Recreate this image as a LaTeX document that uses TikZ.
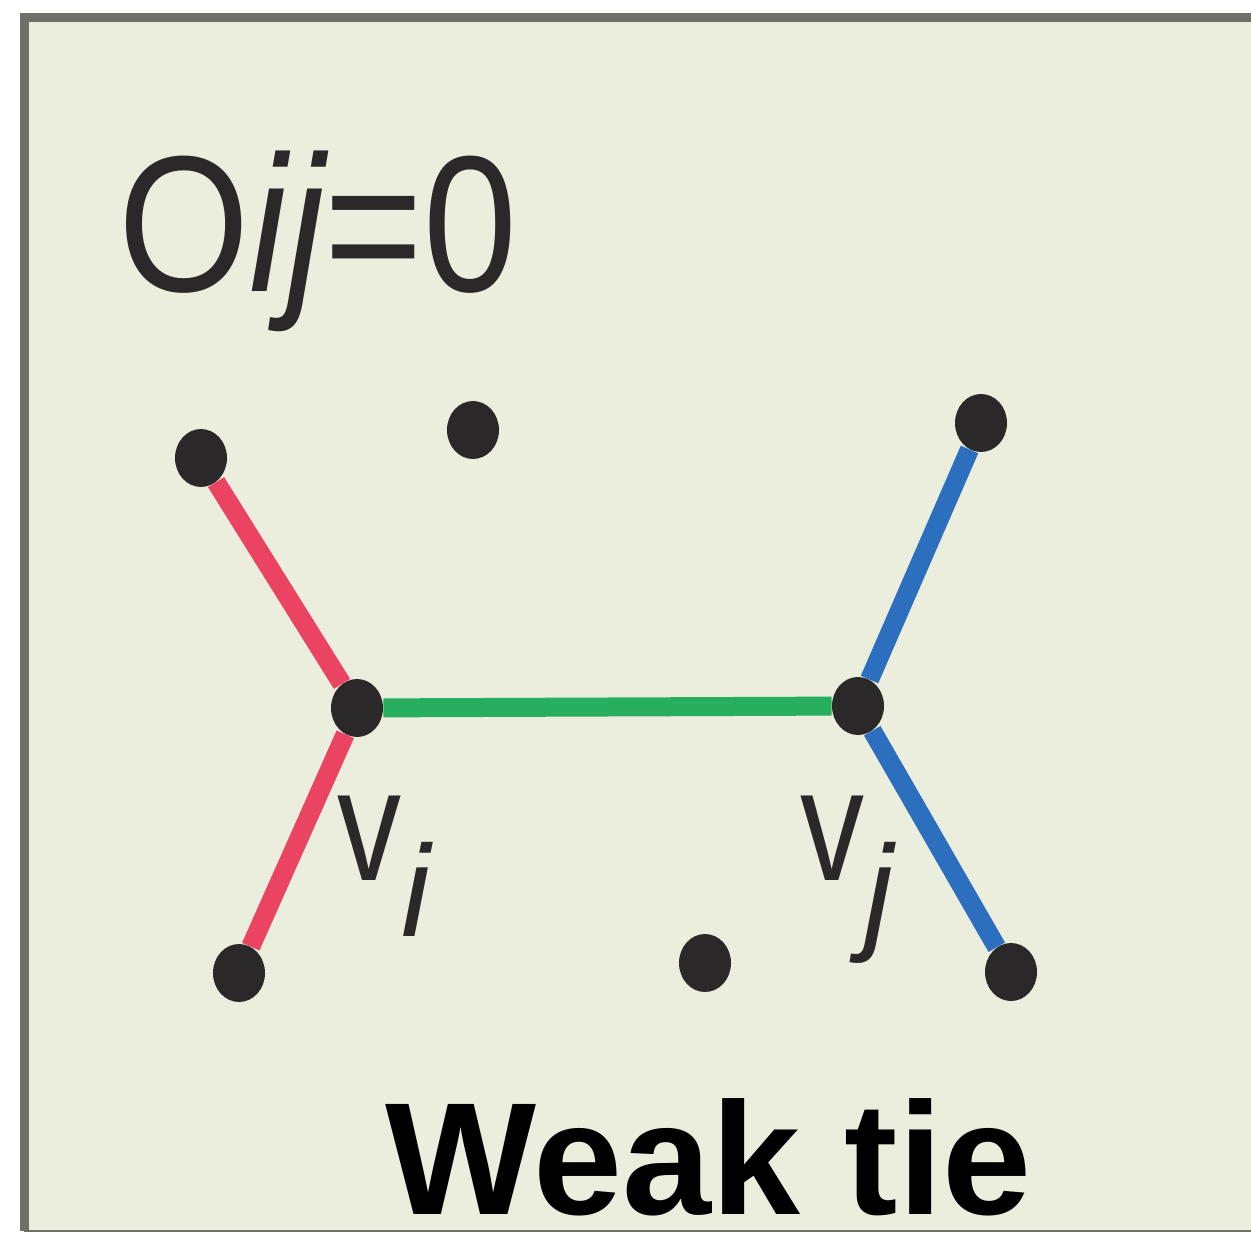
\documentclass[tikz,border=0pt]{standalone}
\usepackage{fontspec}
\setmainfont{Liberation Sans}
\usetikzlibrary{shapes.geometric,positioning}

\definecolor{paper}{HTML}{EBEDDD}
\definecolor{rim}{HTML}{6E6F68}
\definecolor{ink}{HTML}{2A2829}
\definecolor{tiered}{HTML}{EA4462}
\definecolor{tiegreen}{HTML}{27AE5F}
\definecolor{tieblue}{HTML}{2C6FBE}

\begin{document}
\begin{tikzpicture}[x=0.5pt, y=-0.5pt,
    dot/.style={ellipse, fill=ink, inner sep=0pt, minimum width=26pt, minimum height=29pt},
    tie/.style={line width=9.5pt},
    lbl/.style={anchor=base west, inner sep=0pt, text depth=0pt, text=ink}]
  \useasboundingbox (0,0) rectangle (1251,1234);

  % panel
  \fill[paper] (24,18) rectangle (1251,1231);
  \draw[rim, line width=4.5pt] (1251,18) -- (24,18) -- (24,1231);
  \draw[rim, line width=1pt] (24,1231) -- (1251,1231);

  \node[lbl] (title) at (118,292)
    {\fontsize{97}{110}\selectfont\scalebox{0.87}[1]{O{\itshape ij}=0}};

  \node[dot] (tl) at (201,458) {};
  \node[dot] (tm) at (473,430) {};
  \node[dot] (tr) at (981,423) {};
  \node[dot] (vi) at (357,708) {};
  \node[dot] (vj) at (858,706) {};
  \node[dot] (bl) at (239,973) {};
  \node[dot] (bm) at (705,963) {};
  \node[dot] (br) at (1011,972) {};

  \path[tie]
    (tl) edge[tiered] (vi)
    (vi) edge[tiered] (bl)
    (vi) edge[tiegreen] (vj)
    (tr) edge[tieblue] (vj)
    (vj) edge[tieblue] (br);

  \node[lbl] (labi) at (337,880)
    {\fontsize{80}{90}\selectfont\scalebox{0.8}[1]{v}\raisebox{-28pt}{\fontsize{65}{70}\selectfont\itshape i}};
  \node[lbl] (labj) at (800,880)
    {\fontsize{80}{90}\selectfont\scalebox{0.8}[1]{v}\raisebox{-28pt}{\fontsize{65}{70}\selectfont\itshape j}};

  \node[lbl, text=black] (kind) at (385,1214)
    {\fontsize{80}{90}\selectfont\bfseries Weak tie};
\end{tikzpicture}
\end{document}
